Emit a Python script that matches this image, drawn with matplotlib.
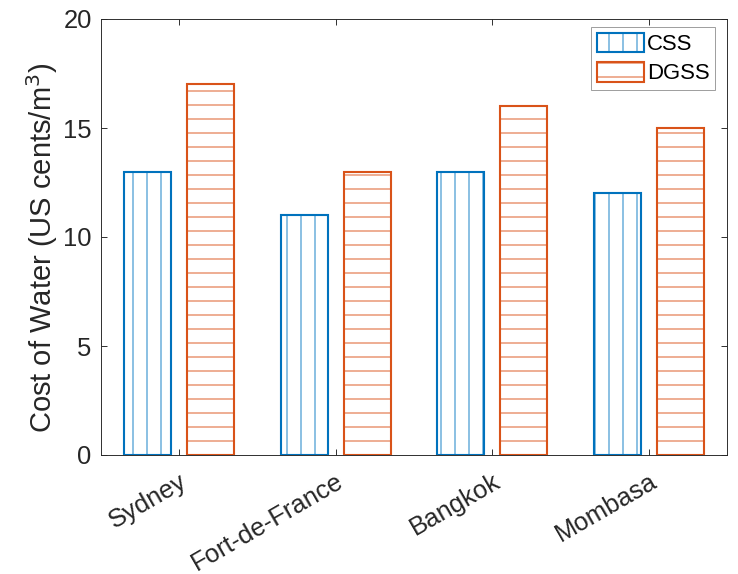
import numpy as np
import matplotlib.pyplot as plt

plt.rcParams['font.family'] = ['Liberation Sans', 'DejaVu Sans']
plt.rcParams['hatch.linewidth'] = 1.0

# Data
cities = ["Sydney", "Fort-de-France", "Bangkok", "Mombasa"]
css = [13, 11, 13, 12]
dgss = [17, 13, 16, 15]

blue = "#0072BD"
orange = "#D95319"
blue_hatch = "#3D95D0"
orange_hatch = "#E2774A"
dark = "#262626"

dpi = 84
fig = plt.figure(figsize=(738 / dpi, 574 / dpi), dpi=dpi)
ax = fig.add_axes([101 / 738, 1 - 455 / 574, (727 - 101) / 738, (455 - 19) / 574])

x = np.arange(1, len(cities) + 1)
w = 0.3
# hatch layer (lighter) + outline layer
h1 = ax.bar(x - 0.2, css, w, facecolor="white", edgecolor=blue_hatch, hatch="|", linewidth=0)
e1 = ax.bar(x - 0.2, css, w, facecolor="none", edgecolor=blue, linewidth=1.8)
h2 = ax.bar(x + 0.2, dgss, w, facecolor="white", edgecolor=orange_hatch, hatch="-", linewidth=0)
e2 = ax.bar(x + 0.2, dgss, w, facecolor="none", edgecolor=orange, linewidth=1.8)

ax.set_xlim(0.5, 4.5)
ax.set_ylim(0, 20)
ax.set_yticks([0, 5, 10, 15, 20])
ax.set_xticks(x)
ax.set_xticklabels(cities, rotation=30, ha="right", va="top", rotation_mode="anchor")
ax.tick_params(direction="in", top=True, right=True, length=5, width=0.8,
               colors=dark, labelsize=22, pad=8)
ax.tick_params(axis="x", pad=12)
for s in ax.spines.values():
    s.set_color(dark)
    s.set_linewidth(0.8)

ax.set_ylabel("Cost of Water (US cents/m$^3$)", fontsize=25, color=dark)
ax.yaxis.set_label_coords(-0.066, 0.475)

leg = ax.legend([(h1[0], e1[0]), (h2[0], e2[0])], ["CSS", "DGSS"],
                loc="upper right", bbox_to_anchor=(715 / 738, 1 - 27 / 574),
                bbox_transform=fig.transFigure, borderaxespad=0,
                fontsize=19, fancybox=False, edgecolor="#808080",
                handlelength=2.1, handleheight=1.0, handletextpad=0.15,
                borderpad=0.25, labelspacing=0.3)
leg.get_frame().set_linewidth(0.8)

fig.savefig("out.png", dpi=dpi)
